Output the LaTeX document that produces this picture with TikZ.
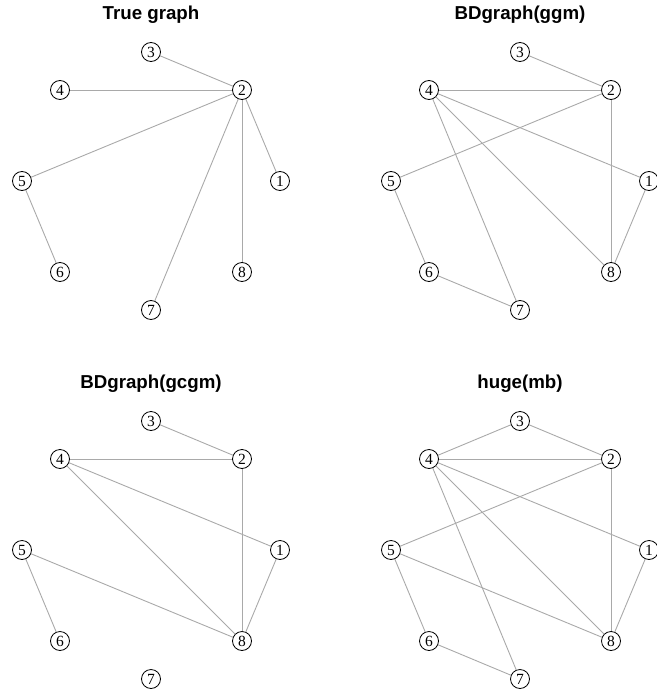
\documentclass[tikz,border=0pt]{standalone}
\usepackage{fontspec}
\setmainfont{Liberation Serif}
\setsansfont{Liberation Sans}
\definecolor{edgeGrey}{HTML}{A9A9A9}
\begin{document}
\begin{tikzpicture}[x=1pt, y=-1pt, vertexStyle/.style={circle, draw, line width=0.8pt, fill=white, minimum size=19pt, inner sep=0pt, font=\fontsize{15.5}{16}\selectfont}, edgeStyle/.style={draw=edgeGrey, line width=0.9pt}, titleStyle/.style={font=\sffamily\bfseries\fontsize{18.7}{22}\selectfont}]
                    \useasboundingbox (0, 0) rectangle (656, 693);

                    % titles
                    \node[titleStyle] (title_t) at (151, 15) {True graph};
                    \node[titleStyle] (title_g) at (151 + 369, 15) {BDgraph(ggm)};
                    \node[titleStyle] (title_c) at (151, 15 + 369) {BDgraph(gcgm)};
                    \node[titleStyle] (title_m) at (151 + 369, 15 + 369) {huge(mb)};

                    % True graph
                    \node[vertexStyle] (t1) at (280, 181) {1};
                    \node[vertexStyle] (t2) at (242,  90) {2};
                    \node[vertexStyle] (t3) at (151,  52) {3};
                    \node[vertexStyle] (t4) at ( 60,  90) {4};
                    \node[vertexStyle] (t5) at ( 22, 181) {5};
                    \node[vertexStyle] (t6) at ( 60, 272) {6};
                    \node[vertexStyle] (t7) at (151, 310) {7};
                    \node[vertexStyle] (t8) at (242, 272) {8};

                    % BDgraph(ggm)
                    \node[vertexStyle] (g1) at (280 + 369, 181) {1};
                    \node[vertexStyle] (g2) at (242 + 369,  90) {2};
                    \node[vertexStyle] (g3) at (151 + 369,  52) {3};
                    \node[vertexStyle] (g4) at ( 60 + 369,  90) {4};
                    \node[vertexStyle] (g5) at ( 22 + 369, 181) {5};
                    \node[vertexStyle] (g6) at ( 60 + 369, 272) {6};
                    \node[vertexStyle] (g7) at (151 + 369, 310) {7};
                    \node[vertexStyle] (g8) at (242 + 369, 272) {8};

                    % BDgraph(gcgm)
                    \node[vertexStyle] (c1) at (280, 181 + 369) {1};
                    \node[vertexStyle] (c2) at (242,  90 + 369) {2};
                    \node[vertexStyle] (c3) at (151,  52 + 369) {3};
                    \node[vertexStyle] (c4) at ( 60,  90 + 369) {4};
                    \node[vertexStyle] (c5) at ( 22, 181 + 369) {5};
                    \node[vertexStyle] (c6) at ( 60, 272 + 369) {6};
                    \node[vertexStyle] (c7) at (151, 310 + 369) {7};
                    \node[vertexStyle] (c8) at (242, 272 + 369) {8};

                    % huge(mb)
                    \node[vertexStyle] (m1) at (280 + 369, 181 + 369) {1};
                    \node[vertexStyle] (m2) at (242 + 369,  90 + 369) {2};
                    \node[vertexStyle] (m3) at (151 + 369,  52 + 369) {3};
                    \node[vertexStyle] (m4) at ( 60 + 369,  90 + 369) {4};
                    \node[vertexStyle] (m5) at ( 22 + 369, 181 + 369) {5};
                    \node[vertexStyle] (m6) at ( 60 + 369, 272 + 369) {6};
                    \node[vertexStyle] (m7) at (151 + 369, 310 + 369) {7};
                    \node[vertexStyle] (m8) at (242 + 369, 272 + 369) {8};

                    \draw[edgeStyle] (t3) -- (t2);
                    \draw[edgeStyle] (t4) -- (t2);
                    \draw[edgeStyle] (t5) -- (t2);
                    \draw[edgeStyle] (t7) -- (t2);
                    \draw[edgeStyle] (t8) -- (t2);
                    \draw[edgeStyle] (t1) -- (t2);
                    \draw[edgeStyle] (t5) -- (t6);

                    \draw[edgeStyle] (g3) -- (g2);
                    \draw[edgeStyle] (g4) -- (g2);
                    \draw[edgeStyle] (g4) -- (g1);
                    \draw[edgeStyle] (g4) -- (g8);
                    \draw[edgeStyle] (g4) -- (g7);
                    \draw[edgeStyle] (g5) -- (g2);
                    \draw[edgeStyle] (g2) -- (g8);
                    \draw[edgeStyle] (g1) -- (g8);
                    \draw[edgeStyle] (g5) -- (g6);
                    \draw[edgeStyle] (g6) -- (g7);

                    \draw[edgeStyle] (c3) -- (c2);
                    \draw[edgeStyle] (c4) -- (c2);
                    \draw[edgeStyle] (c4) -- (c1);
                    \draw[edgeStyle] (c4) -- (c8);
                    \draw[edgeStyle] (c2) -- (c8);
                    \draw[edgeStyle] (c1) -- (c8);
                    \draw[edgeStyle] (c5) -- (c8);
                    \draw[edgeStyle] (c5) -- (c6);

                    \draw[edgeStyle] (m3) -- (m4);
                    \draw[edgeStyle] (m3) -- (m2);
                    \draw[edgeStyle] (m4) -- (m2);
                    \draw[edgeStyle] (m4) -- (m1);
                    \draw[edgeStyle] (m4) -- (m8);
                    \draw[edgeStyle] (m4) -- (m7);
                    \draw[edgeStyle] (m5) -- (m2);
                    \draw[edgeStyle] (m5) -- (m8);
                    \draw[edgeStyle] (m2) -- (m8);
                    \draw[edgeStyle] (m1) -- (m8);
                    \draw[edgeStyle] (m5) -- (m6);
                    \draw[edgeStyle] (m6) -- (m7);
                \end{tikzpicture}
\end{document}
